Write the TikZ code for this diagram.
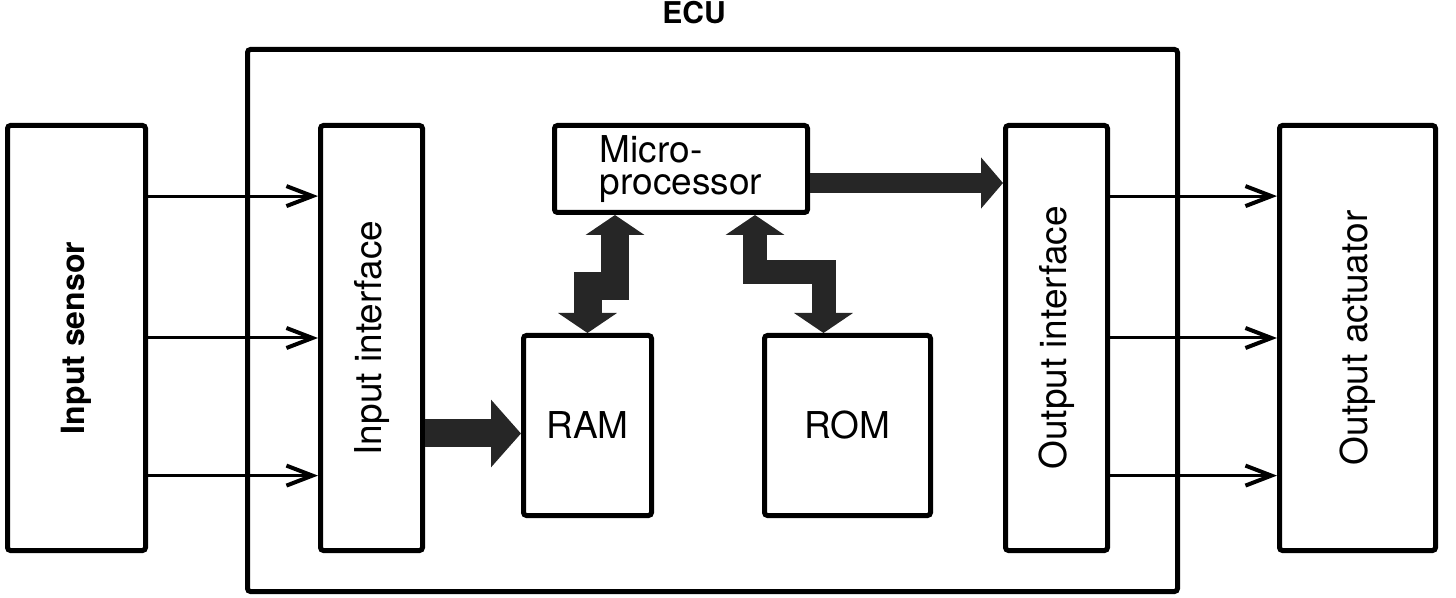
\documentclass[tikz,border=0pt]{standalone}
\usepackage{fontspec}
\setmainfont{TeX Gyre Heros}
\usetikzlibrary{arrows.meta,calc}
\begin{document}
\begin{tikzpicture}[x=0.5pt, y=-0.5pt, box/.style = {shape=rectangle, draw, line width=2.5pt, rounded corners=1.5pt, align=left, inner sep=0pt, font=\fontsize{18.5}{16}\selectfont}, lbl/.style = {rotate=90, font=\fontsize{18.5}{18.5}\selectfont}, sig/.style = {line width=1.5pt, -{Straight Barb[length=13pt, width=10pt, line width=2pt]}}, bus/.style = {draw=black!85, line width=14pt, -{Triangle[length=15pt, width=33pt]}}, bus2/.style = {draw=black!85, line width=14pt, {Triangle[length=10pt, width=29pt]}-{Triangle[length=10pt, width=29pt]}}]
	\useasboundingbox (0,0) rectangle (1456,598);
	\node[box, minimum width=465pt, minimum height=271pt] (ecu) at (712.5,320.5) {};
	\node[font=\fontsize{15}{15}\selectfont\bfseries] (ecutitle) at (694,13) {ECU};
	\node[box, minimum width=69pt, minimum height=212.5pt, label={[lbl, font=\fontsize{16}{16}\selectfont\bfseries]center:Input sensor}] (sensor) at (76.5,338) {};
	\node[box, minimum width=51pt, minimum height=212.5pt, label={[lbl]center:Input interface}] (inif) at (371.5,338) {};
	\node[box, minimum width=126.5pt, minimum height=43.5pt] (micro) at (681,169) {Micro-\\processor};
	\node[box, minimum width=64pt, minimum height=90pt] (ram) at (587.5,425.5) {RAM};
	\node[box, minimum width=83pt, minimum height=90pt] (rom) at (847.5,425.5) {ROM};
	\node[box, minimum width=51pt, minimum height=212.5pt, label={[lbl]center:Output interface}] (outif) at (1056.5,338) {};
	\node[box, minimum width=78pt, minimum height=212.5pt, label={[lbl]center:Output actuator}] (act) at (1357.5,338) {};
	\foreach \f in {0.17,0.5,0.82} {
		\draw[sig] ($(sensor.north east)!\f!(sensor.south east)$) -- ($(inif.north west)!\f!(inif.south west)$);
		\draw[sig] ($(outif.north east)!\f!(outif.south east)$) -- ($(act.north west)!\f!(act.south west)$);
	}
	\draw[bus] ([yshift=-4pt]ram.west -| inif.east) -- ([yshift=-4pt]ram.west);
	\draw[bus, line width=10pt, -{Triangle[length=11pt, width=25pt]}] ([yshift=-7pt]micro.east) -- ([yshift=-7pt]micro.east -| outif.west);
	\draw[bus2] ([xshift=-33pt]micro.south) -- ++(0,71) -| (ram.north);
	\draw[bus2, line width=12pt] ([xshift=37pt]micro.south) -- ++(0,57) -| ([xshift=-12pt]rom.north);
\end{tikzpicture}
\end{document}
